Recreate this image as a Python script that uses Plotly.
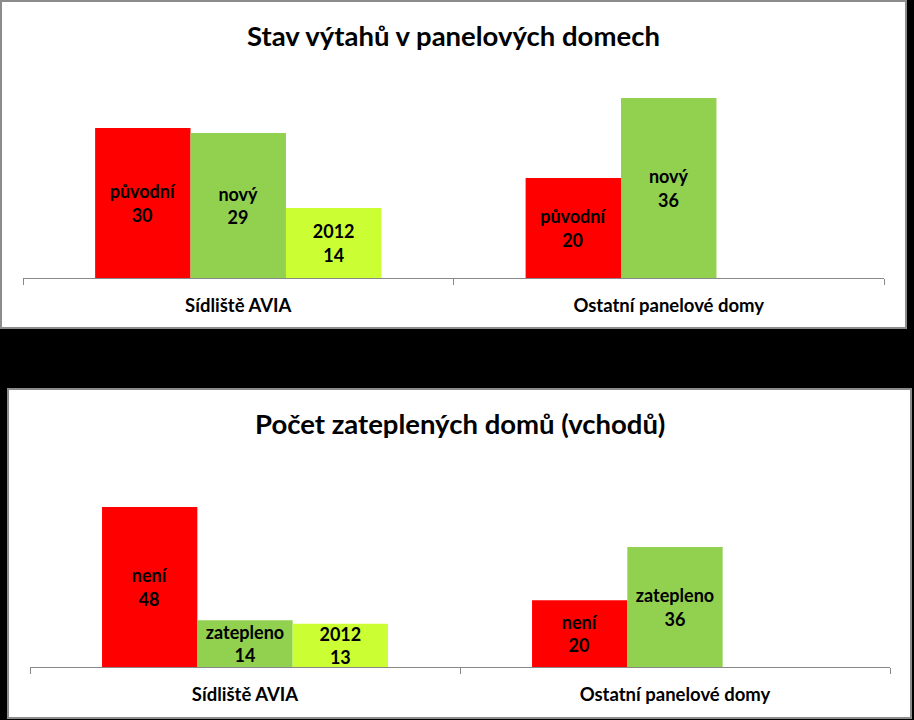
import plotly.graph_objects as go

W, H = 914, 720

# data
categories = ["Sídliště AVIA", "Ostatní panelové domy"]

lift_title = "Stav výtahů v panelových domech"
lift_names = ["původní", "nový", "2012"]
lift_original = [30, 20]
lift_new = [29, 36]
lift_2012 = [14, None]

insul_title = "Počet zateplených domů (vchodů)"
insul_names = ["není", "zatepleno", "2012"]
insul_none = [48, 20]
insul_done = [14, 36]
insul_2012 = [13, None]

colors = ["#FF0000", "#92D050", "#CCFF33"]
FONT = "Lato, Calibri, 'Open Sans', sans-serif"


def px_x(x):
    return x / W


def px_y(y):
    return 1 - y / H


def label(name, vals):
    return ["" if v is None else f"{name}<br>{v}" for v in vals]


fig = go.Figure()

for i, (name, vals) in enumerate(zip(lift_names, [lift_original, lift_new, lift_2012])):
    fig.add_trace(go.Bar(x=categories, y=vals, name=name, marker=dict(color=colors[i], line=dict(width=0)),
                         text=label(name, vals), textposition="inside", insidetextanchor="middle",
                         constraintext="none", textangle=0,
                         textfont=dict(family=FONT, size=18, color="black", weight="bold"),
                         xaxis="x", yaxis="y"))

for i, (name, vals) in enumerate(zip(insul_names, [insul_none, insul_done, insul_2012])):
    fig.add_trace(go.Bar(x=categories, y=vals, name=name, marker=dict(color=colors[i], line=dict(width=0)),
                         text=label(name, vals), textposition="inside", insidetextanchor="middle",
                         constraintext="none", textangle=0,
                         textfont=dict(family=FONT, size=18, color="black", weight="bold"),
                         xaxis="x2", yaxis="y2"))

xcommon = dict(type="category", showline=True, linecolor="#888888", linewidth=1, ticks="outside",
               tickson="boundaries", ticklen=6, tickcolor="#888888", showgrid=False, zeroline=False,
               ticklabelstandoff=11,
               tickfont=dict(family=FONT, size=18.5, color="black", weight="bold"), fixedrange=True)
ycommon = dict(visible=False, showgrid=False, zeroline=False, fixedrange=True)

fig.update_layout(
    width=W, height=H,
    margin=dict(l=0, r=0, t=0, b=0),
    paper_bgcolor="black", plot_bgcolor="rgba(0,0,0,0)",
    showlegend=False, barmode="group", bargap=0.335, bargroupgap=0,
    xaxis=dict(domain=[px_x(23), px_x(884)], anchor="y", **xcommon),
    yaxis=dict(domain=[px_y(278), px_y(78)], range=[0, 40], anchor="x", **ycommon),
    xaxis2=dict(domain=[px_x(30), px_x(890)], anchor="y2", **xcommon),
    yaxis2=dict(domain=[px_y(667), px_y(467)], range=[0, 60], anchor="x2", **ycommon),
    shapes=[
        dict(type="rect", xref="paper", yref="paper", x0=px_x(1), x1=px_x(906), y0=px_y(328), y1=px_y(1),
             fillcolor="white", line=dict(color="#8C8C8C", width=2), layer="below"),
        dict(type="rect", xref="paper", yref="paper", x0=px_x(8), x1=px_x(911), y0=px_y(718), y1=px_y(389),
             fillcolor="white", line=dict(color="#8C8C8C", width=2), layer="below"),
    ],
    annotations=[
        dict(text=lift_title, xref="paper", yref="paper", x=px_x(453), y=px_y(35), showarrow=False,
             xanchor="center", yanchor="middle", font=dict(family=FONT, size=27.5, color="black", weight="bold")),
        dict(text=insul_title, xref="paper", yref="paper", x=px_x(460), y=px_y(423), showarrow=False,
             xanchor="center", yanchor="middle", font=dict(family=FONT, size=27.5, color="black", weight="bold")),
    ],
)

fig.write_html("out.html", config={"displayModeBar": False},
               post_script="document.body.style.margin='0';document.body.style.background='black';")
